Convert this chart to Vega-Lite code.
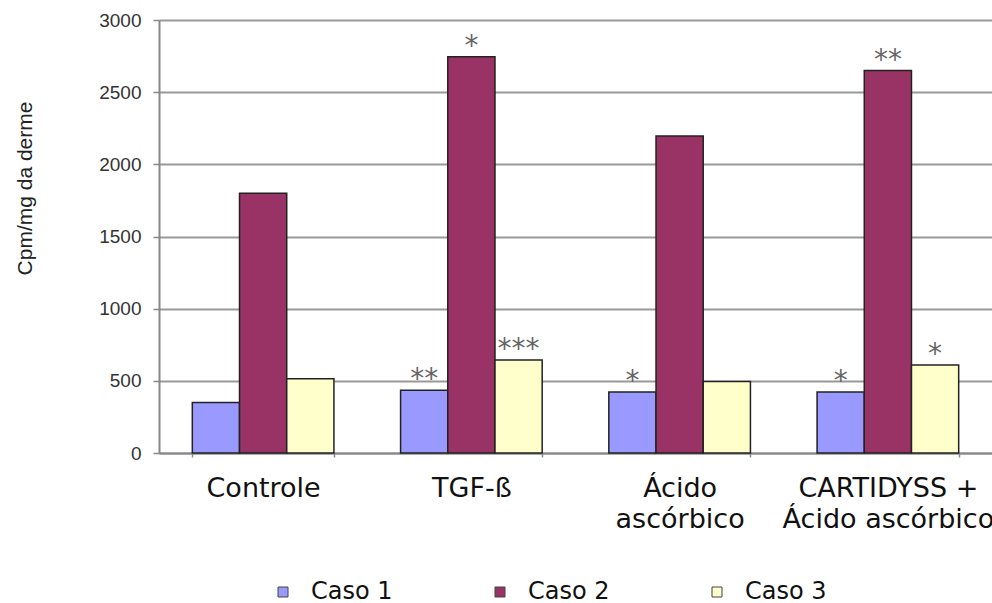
{
  "$schema": "https://vega.github.io/schema/vega-lite/v6.json",
  "width": 833,
  "height": 433,
  "autosize": "none",
  "padding": {"left": 159, "top": 20, "right": 0, "bottom": 150},
  "background": "white",
  "data": {
    "values": [
      {"grupo": "Controle", "caso": "Caso 1", "valor": 350, "sig": ""},
      {"grupo": "Controle", "caso": "Caso 2", "valor": 1800, "sig": ""},
      {"grupo": "Controle", "caso": "Caso 3", "valor": 515, "sig": ""},
      {"grupo": "TGF-ß", "caso": "Caso 1", "valor": 435, "sig": "**"},
      {"grupo": "TGF-ß", "caso": "Caso 2", "valor": 2745, "sig": "*"},
      {"grupo": "TGF-ß", "caso": "Caso 3", "valor": 645, "sig": "***"},
      {"grupo": "Ácido|ascórbico", "caso": "Caso 1", "valor": 423, "sig": "*"},
      {"grupo": "Ácido|ascórbico", "caso": "Caso 2", "valor": 2197, "sig": ""},
      {"grupo": "Ácido|ascórbico", "caso": "Caso 3", "valor": 495, "sig": ""},
      {"grupo": "CARTIDYSS +|Ácido ascórbico", "caso": "Caso 1", "valor": 423, "sig": "*"},
      {"grupo": "CARTIDYSS +|Ácido ascórbico", "caso": "Caso 2", "valor": 2650, "sig": "**"},
      {"grupo": "CARTIDYSS +|Ácido ascórbico", "caso": "Caso 3", "valor": 610, "sig": "*"}
    ]
  },
  "encoding": {
    "x": {
      "field": "grupo",
      "type": "nominal",
      "sort": null,
      "scale": {"paddingInner": 0.32, "paddingOuter": 0.16},
      "axis": {
        "title": null,
        "labelAngle": 0,
        "labelExpr": "isString(datum.value) ? split(datum.value, '|') : ''",
        "labelFont": "DejaVu Sans",
        "labelFontSize": 27,
        "labelColor": "#111",
        "labelBaseline": "top",
        "labelLineHeight": 31,
        "labelPadding": 18,
        "labelLimit": 400,
        "domainColor": "#888",
        "domainWidth": 2,
        "tickColor": "#888",
        "tickSize": 4,
        "tickWidth": 1.5,
        "tickBand": "extent",
        "grid": false
      }
    },
    "xOffset": {"field": "caso", "type": "nominal", "scale": {"paddingInner": 0, "paddingOuter": 0}},
    "y": {
      "field": "valor",
      "type": "quantitative",
      "scale": {"domain": [0, 3000], "nice": false},
      "axis": {
        "values": [0, 500, 1000, 1500, 2000, 2500, 3000],
        "format": "d",
        "title": "Cpm/mg da derme",
        "titleFont": "Liberation Sans",
        "titleFontSize": 21,
        "titleFontWeight": "normal",
        "titleColor": "#222",
        "titleX": -134,
        "titleY": 168,
        "titleAngle": -90,
        "titleBaseline": "middle",
        "titleAlign": "center",
        "labelFont": "Liberation Sans",
        "labelFontSize": 19,
        "labelColor": "#333",
        "labelPadding": 12,
        "domainColor": "#888",
        "domainWidth": 2,
        "tickColor": "#888",
        "tickSize": 6,
        "tickWidth": 1.5,
        "gridColor": "#999",
        "gridWidth": 1.8,
        "grid": true
      }
    }
  },
  "layer": [
    {
      "mark": {"type": "bar", "stroke": "#222", "strokeWidth": 1.5},
      "encoding": {
        "color": {
          "field": "caso",
          "type": "nominal",
          "scale": {"domain": ["Caso 1", "Caso 2", "Caso 3"], "range": ["#9999FF", "#993366", "#FFFFCC"]},
          "legend": {
            "title": null,
            "orient": "none",
            "direction": "horizontal",
            "legendX": 112,
            "legendY": 560,
            "symbolType": "square",
            "symbolSize": 100,
            "symbolStrokeColor": "#444",
            "symbolStrokeWidth": 1,
            "labelFont": "DejaVu Sans",
            "labelFontSize": 24,
            "labelColor": "#111",
            "labelOffset": 16,
            "columnPadding": 95
          }
        }
      }
    },
    {
      "mark": {"type": "text", "baseline": "alphabetic", "dy": -2, "font": "DejaVu Sans", "fontSize": 28, "color": "#666"},
      "encoding": {"text": {"field": "sig"}}
    }
  ]
}
